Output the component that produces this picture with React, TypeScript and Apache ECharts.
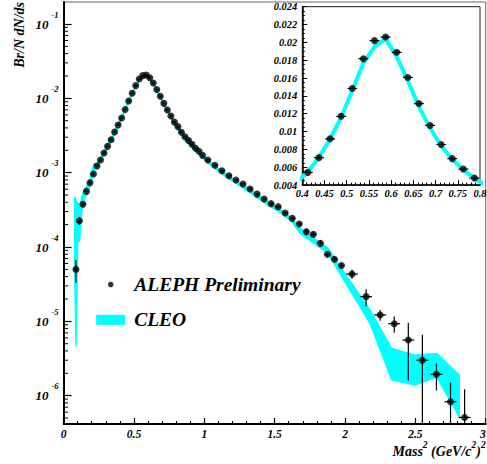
import React, { useEffect, useRef } from 'react';
import * as echarts from 'echarts';

// ALEPH preliminary points (bin centres, Br/N dN/ds, symmetric error)
const aleX = [
  0.0875, 0.1125, 0.1375, 0.1625, 0.1875, 0.2125, 0.2375, 0.2625, 0.2875, 0.3125,
  0.3375, 0.3625, 0.3875, 0.4125, 0.4375, 0.4625, 0.4875, 0.5125, 0.5375, 0.5625,
  0.5875, 0.6125, 0.6375, 0.6625, 0.6875, 0.7125, 0.7375, 0.7625, 0.7875, 0.8125,
  0.8375, 0.8625, 0.8875, 0.9125, 0.9375, 0.9625, 0.9875,
  1.025, 1.075, 1.125, 1.175, 1.225, 1.275, 1.325, 1.375, 1.425, 1.475,
  1.525, 1.575, 1.625, 1.675, 1.725, 1.775, 1.825, 1.875, 1.925, 1.975,
  2.05, 2.15, 2.25, 2.35, 2.45, 2.55, 2.65, 2.75, 2.85,
];
const aleY = [
  5.0e-5, 2.26e-4, 3.76e-4, 5.6e-4, 7.3e-4, 9.6e-4, 1.23e-3, 1.48e-3, 1.84e-3, 2.26e-3,
  2.78e-3, 3.53e-3, 4.38e-3, 5.43e-3, 7.08e-3, 9.19e-3, 1.171e-2, 1.483e-2, 1.817e-2, 2.02e-2,
  2.06e-2, 1.889e-2, 1.607e-2, 1.314e-2, 1.069e-2, 8.55e-3, 6.97e-3, 5.8e-3, 4.79e-3, 4.16e-3,
  3.49e-3, 3.05e-3, 2.72e-3, 2.41e-3, 2.13e-3, 1.94e-3, 1.71e-3,
  1.48e-3, 1.26e-3, 1.06e-3, 9.1e-4, 7.97e-4, 7.05e-4, 6.04e-4, 5.15e-4, 4.43e-4, 3.83e-4,
  3.49e-4, 2.87e-4, 2.43e-4, 2.04e-4, 1.6e-4, 1.48e-4, 1.12e-4, 8.0e-5, 6.84e-5, 5.63e-5,
  4.33e-5, 2.15e-5, 1.22e-5, 9.3e-6, 5.6e-6, 3.0e-6, 1.94e-6, 8.3e-7, 5.1e-7,
];
const aleErr = [
  1.7e-5, 2.8e-5, 2.2e-5, 2.0e-5, 2.2e-5, 2.5e-5, 2.8e-5, 3.0e-5, 3.5e-5, 4.0e-5,
  4.5e-5, 5.0e-5, 6.0e-5, 7.0e-5, 8.0e-5, 9.0e-5, 1.0e-4, 1.1e-4, 1.2e-4, 1.3e-4,
  1.3e-4, 1.2e-4, 1.1e-4, 1.0e-4, 9.0e-5, 8.0e-5, 7.0e-5, 6.0e-5, 5.5e-5, 5.0e-5,
  4.5e-5, 4.0e-5, 3.6e-5, 3.2e-5, 2.9e-5, 2.6e-5, 2.4e-5,
  2.0e-5, 1.8e-5, 1.6e-5, 1.4e-5, 1.3e-5, 1.2e-5, 1.1e-5, 1.0e-5, 9.0e-6, 8.5e-6,
  8.0e-6, 7.5e-6, 7.0e-6, 8.0e-6, 1.6e-5, 1.2e-5, 1.2e-5, 8.0e-6, 5.5e-6, 4.0e-6,
  6.0e-6, 5.5e-6, 2.0e-6, 2.3e-6, 4.0e-6, 3.6e-6, 7.6e-7, 6.7e-7, 7.1e-7,
];
const aleXErr = [
  0.011, 0.011, 0.011, 0.011, 0.011, 0.011, 0.011, 0.011, 0.011, 0.011,
  0.011, 0.011, 0.011, 0.011, 0.011, 0.011, 0.011, 0.011, 0.011, 0.011,
  0.011, 0.011, 0.011, 0.011, 0.011, 0.011, 0.011, 0.011, 0.011, 0.011,
  0.011, 0.011, 0.011, 0.011, 0.011, 0.011, 0.011,
  0.02, 0.02, 0.02, 0.02, 0.02, 0.02, 0.02, 0.02, 0.02, 0.02,
  0.02, 0.02, 0.02, 0.02, 0.02, 0.02, 0.02, 0.02, 0.02, 0.02,
  0.042, 0.042, 0.042, 0.042, 0.042, 0.042, 0.042, 0.042, 0.042,
];

// CLEO band (lower / upper edge)
const cleoX = [
  0.079, 0.088, 0.1, 0.113, 0.125, 0.14, 0.165, 0.19, 0.215,
  0.2375, 0.2625, 0.2875, 0.3125, 0.3375, 0.3625, 0.3875, 0.4125, 0.4375, 0.4625,
  0.4875, 0.5125, 0.5375, 0.5625, 0.5875, 0.6125, 0.6375, 0.6625, 0.6875, 0.7125,
  0.7375, 0.7625, 0.7875, 0.8125, 0.8625, 0.9125, 0.9625, 1.025, 1.125, 1.225,
  1.325, 1.425, 1.525, 1.625, 1.68, 1.881, 1.941, 2.178, 2.332, 2.497, 2.652, 2.812,
];
const cleoLo = [
  5.0e-5, 4.6e-6, 1.2e-4, 1.2e-4, 2.6e-4, 4.1e-4, 5.2e-4, 6.8e-4, 1.05e-3,
  1.22e-3, 1.45e-3, 1.77e-3, 2.17e-3, 2.67e-3, 3.33e-3, 4.15e-3, 5.3e-3, 6.9e-3, 9.0e-3,
  1.14e-2, 1.44e-2, 1.75e-2, 1.93e-2, 2.02e-2, 1.82e-2, 1.55e-2, 1.26e-2, 1.02e-2, 8.2e-3,
  6.7e-3, 5.5e-3, 4.55e-3, 3.82e-3, 2.77e-3, 2.2e-3, 1.77e-3, 1.36e-3, 9.6e-4, 7.2e-4,
  5.45e-4, 4.0e-4, 3.05e-4, 2.17e-4, 1.53e-4, 8.2e-5, 5.2e-5, 9.4e-6, 1.63e-6, 1.39e-6, 1.8e-6, 5.2e-7,
];
const cleoHi = [
  4.7e-4, 4.2e-4, 3.9e-4, 3.6e-4, 4.3e-4, 5.5e-4, 6.6e-4, 8.4e-4, 1.3e-3,
  1.34e-3, 1.59e-3, 1.95e-3, 2.39e-3, 2.93e-3, 3.67e-3, 4.55e-3, 5.7e-3, 7.3e-3, 9.4e-3,
  1.18e-2, 1.48e-2, 1.79e-2, 1.97e-2, 2.06e-2, 1.86e-2, 1.59e-2, 1.3e-2, 1.06e-2, 8.6e-3,
  7.1e-3, 5.9e-3, 4.95e-3, 4.18e-3, 3.03e-3, 2.4e-3, 1.93e-3, 1.48e-3, 1.04e-3, 7.8e-4,
  5.95e-4, 4.4e-4, 3.35e-4, 2.39e-4, 1.79e-4, 9.6e-5, 6.4e-5, 1.42e-5, 4.3e-6, 3.5e-6, 3.7e-6, 1.9e-6,
];

const insetXRange = [0.4, 0.8];
const insetYRange = [0.004, 0.024];
const mainYRange = [4.16e-7, 0.1977];
const yTitle = 'Br/N dN/ds';

const FONT = '"Liberation Serif", "Times New Roman", Times, serif';
const CYAN = '#00ffff';
const txt = (size: number) => ({
  fontFamily: FONT,
  fontWeight: 'bold' as const,
  fontStyle: 'italic' as const,
  fontSize: size,
  color: '#000',
});

export default function App() {
  const ref = useRef<HTMLDivElement>(null);
  useEffect(() => {
    const chart = echarts.init(ref.current!, null, { renderer: 'svg' });

    const minorVals: number[] = [];
    for (let n = -7; n <= -1; n++) {
      for (let k = 2; k <= 9; k++) {
        const v = k * Math.pow(10, n);
        if (v > mainYRange[0] && v < mainYRange[1]) minorVals.push(v);
      }
    }

    const errData = aleX.map((x, i) => [
      x,
      aleY[i],
      Math.max(aleY[i] - aleErr[i], 1e-9),
      aleY[i] + aleErr[i],
      aleXErr[i],
    ]);
    const insetIdx = aleX
      .map((x, i) => i)
      .filter((i) => aleX[i] > insetXRange[0] && aleX[i] < insetXRange[1]);

    const errRender = (params: any, api: any) => {
      const x = api.value(0);
      const y = api.value(1);
      const lo = api.value(2);
      const hi = api.value(3);
      const xe = api.value(4);
      const pl = api.coord([x, lo]);
      const ph = api.coord([x, hi]);
      const xl = api.coord([x - xe, y]);
      const xh = api.coord([x + xe, y]);
      const st = { stroke: '#000', lineWidth: 1.2 };
      return {
        type: 'group',
        children: [
          { type: 'line', shape: { x1: pl[0], y1: pl[1], x2: ph[0], y2: ph[1] }, style: st },
          { type: 'line', shape: { x1: xl[0], y1: xl[1], x2: xh[0], y2: xh[1] }, style: st },
        ],
      };
    };

    const option: any = {
      animation: false,
      grid: [
        { left: 63.6, top: 2, width: 422.1, height: 422, show: true, borderColor: '#666', borderWidth: 1, outerBoundsMode: 'none', containLabel: false },
        { left: 302.3, top: 6.7, width: 177.7, height: 178.4, show: true, borderColor: '#222', borderWidth: 1, outerBoundsMode: 'none', containLabel: false },
      ],
      graphic: [
        {
          type: 'text',
          x: 19.5,
          y: 2,
          rotation: Math.PI / 2,
          style: {
            text: yTitle,
            fill: '#000',
            font: `italic bold 14px ${FONT}`,
            align: 'right',
            verticalAlign: 'middle',
          },
        },
      ],
      legend: [
        {
          data: [{ name: 'ALEPH Preliminary', icon: 'circle' }],
          left: 108, top: 274.5, padding: 0,
          itemWidth: 29, itemHeight: 5.5,
          selectedMode: false,
          textStyle: { ...txt(19.5), padding: [0, 0, 0, 4] },
        },
        {
          data: [{ name: 'CLEO', icon: 'rect' }],
          left: 96.2, top: 309.8, padding: 0,
          itemWidth: 29, itemHeight: 10,
          selectedMode: false,
          textStyle: { ...txt(19.5), padding: [0, 0, 0, 4] },
        },
      ],
      xAxis: [
        {
          type: 'value', gridIndex: 0, min: 0, max: 3, interval: 0.5,
          axisLine: { show: true, onZero: false, lineStyle: { color: '#000', width: 2 } },
          axisTick: { show: true, inside: true, length: 6, lineStyle: { color: '#000', width: 1.2 } },
          minorTick: { show: true, splitNumber: 5, length: 3, lineStyle: { color: '#000', width: 1 } },
          splitLine: { show: false },
          axisLabel: { ...txt(11.5), margin: 4, interval: 0, alignMaxLabel: 'right' },
          name: '{t|Mass}{s|2}{t| (GeV/c}{s|2}{t|)}{s|2}',
          nameLocation: 'end',
          nameGap: 0,
          nameTextStyle: {
            align: 'right', verticalAlign: 'top', padding: [16, 0, 0, 0],
            rich: {
              t: { ...txt(14), lineHeight: 22, verticalAlign: 'middle' },
              s: { ...txt(9.5), lineHeight: 14, verticalAlign: 'top' },
            },
          },
        },
        {
          type: 'value', gridIndex: 1, min: insetXRange[0], max: insetXRange[1], interval: 0.05,
          axisLine: { show: true, onZero: false, lineStyle: { color: '#000', width: 1.5 } },
          axisTick: { show: true, inside: true, length: 5, lineStyle: { color: '#000', width: 1 } },
          minorTick: { show: true, splitNumber: 5, length: 2.5, lineStyle: { color: '#000', width: 1 } },
          splitLine: { show: false },
          axisLabel: { ...txt(10.5), margin: 3, interval: 0 },
        },
      ],
      yAxis: [
        {
          type: 'log', logBase: 10, gridIndex: 0, min: mainYRange[0], max: mainYRange[1],
          axisLine: { show: true, onZero: false, lineStyle: { color: '#000', width: 2 } },
          axisTick: { show: true, inside: true, length: 8, lineStyle: { color: '#000', width: 1.2 } },
          splitLine: { show: false },
          axisLabel: {
            showMinLabel: false, showMaxLabel: false, margin: 5,
            formatter: (v: number) => `{b|10}{s|${Math.round(Math.log10(v))}}`,
            rich: {
              b: { ...txt(13), lineHeight: 28, verticalAlign: 'middle' },
              s: { ...txt(8.5), lineHeight: 10, verticalAlign: 'top', padding: [0, 0, 0, 3] },
            },
          },
        },
        {
          type: 'value', gridIndex: 1, min: insetYRange[0], max: insetYRange[1], interval: 0.002,
          axisLine: { show: true, onZero: false, lineStyle: { color: '#000', width: 1.5 } },
          axisTick: { show: true, inside: true, length: 5, lineStyle: { color: '#000', width: 1 } },
          minorTick: { show: true, splitNumber: 4, length: 2.5, lineStyle: { color: '#000', width: 1 } },
          splitLine: { show: false },
          axisLabel: { ...txt(10.5), margin: 5, interval: 0 },
        },
      ],
      series: [
        {
          name: 'CLEO',
          type: 'custom',
          xAxisIndex: 0, yAxisIndex: 0,
          itemStyle: { color: CYAN },
          data: [[1, 1e-3]],
          z: 1,
          renderItem: (params: any, api: any) => {
            const up = cleoX.map((x, i) => api.coord([x, cleoHi[i]]));
            const dn = cleoX.map((x, i) => api.coord([x, cleoLo[i]])).reverse();
            return {
              type: 'polygon',
              shape: { points: up.concat(dn) },
              style: { fill: CYAN, stroke: CYAN, lineWidth: 1.5 },
            };
          },
        },
        {
          name: 'yMinorTicks',
          type: 'custom',
          xAxisIndex: 0, yAxisIndex: 0,
          silent: true,
          z: 5,
          data: minorVals.map((v) => [0, v]),
          renderItem: (params: any, api: any) => {
            const p = api.coord([0, api.value(1)]);
            return {
              type: 'line',
              shape: { x1: p[0], y1: p[1], x2: p[0] + 4.5, y2: p[1] },
              style: { stroke: '#000', lineWidth: 1 },
            };
          },
        },
        {
          name: 'ALEPH errors',
          type: 'custom',
          xAxisIndex: 0, yAxisIndex: 0,
          silent: true,
          clip: true,
          z: 2,
          data: errData,
          encode: { x: 0, y: 1 },
          renderItem: errRender,
        },
        {
          name: 'ALEPH Preliminary',
          type: 'scatter',
          xAxisIndex: 0, yAxisIndex: 0,
          symbol: 'circle',
          symbolSize: 7,
          itemStyle: { color: '#000' },
          z: 3,
          data: aleX.map((x, i) => [x, aleY[i]]),
        },
        {
          name: 'CLEO inset',
          type: 'line',
          xAxisIndex: 1, yAxisIndex: 1,
          showSymbol: false,
          symbol: 'none',
          clip: true,
          lineStyle: { color: CYAN, width: 4 },
          z: 1,
          data: cleoX
            .map((x, i) => [x, Math.sqrt(cleoLo[i] * cleoHi[i])])
            .filter((d) => d[0] > 0.36 && d[0] < 0.84),
        },
        {
          name: 'ALEPH inset errors',
          type: 'custom',
          xAxisIndex: 1, yAxisIndex: 1,
          silent: true,
          clip: true,
          z: 2,
          data: insetIdx.map((i) => errData[i]),
          encode: { x: 0, y: 1 },
          renderItem: errRender,
        },
        {
          name: 'ALEPH inset',
          type: 'scatter',
          xAxisIndex: 1, yAxisIndex: 1,
          symbol: 'circle',
          symbolSize: 7,
          itemStyle: { color: '#000' },
          z: 3,
          data: insetIdx.map((i) => [aleX[i], aleY[i]]),
        },
      ],
    };

    chart.setOption(option);
    return () => chart.dispose();
  }, []);

  return (
    <div
      ref={ref}
      style={{ position: 'absolute', left: 0, top: 0, width: 487, height: 464, background: '#fff' }}
    />
  );
}
